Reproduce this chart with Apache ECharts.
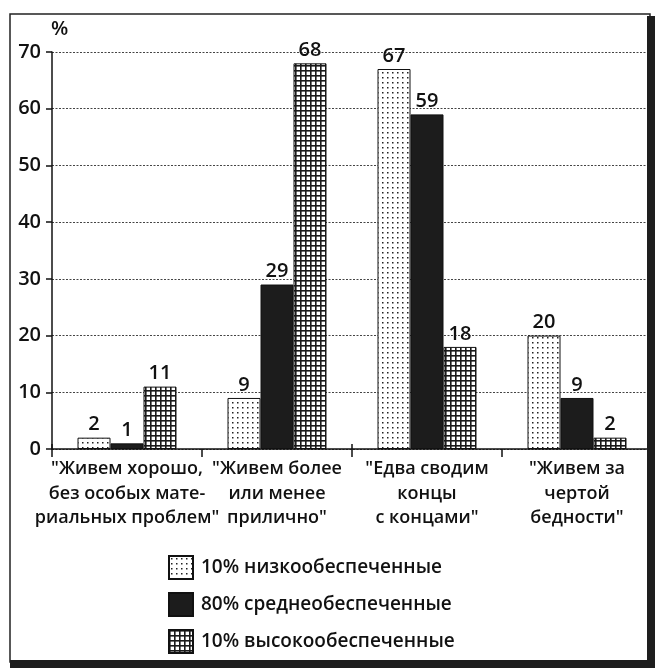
<!DOCTYPE html>
<html>
<head>
<meta charset="utf-8">
<script src="https://cdn.jsdelivr.net/npm/echarts@6/dist/echarts.min.js"></script>
<style>
html,body{margin:0;padding:0;background:#fff;}
#chart{width:664px;height:668px;}
</style>
</head>
<body>
<div id="chart"></div>
<script>
var categories = ['"Живем хорошо,\nбез особых мате-\nриальных проблем"', '"Живем более\nили менее\nприлично"', '"Едва сводим\nконцы\nс концами"', '"Живем за\nчертой\nбедности"'];
var seriesNames = ['10% низкообеспеченные', '80% среднеобеспеченные', '10% высокообеспеченные'];
var lowValues = [2, 9, 67, 20];
var midValues = [1, 29, 59, 9];
var highValues = [11, 68, 18, 2];
var yTicks = [0, 10, 20, 30, 40, 50, 60, 70];

function dotPattern() {
  var c = document.createElement('canvas');
  c.width = 5; c.height = 5;
  var g = c.getContext('2d');
  g.fillStyle = '#ffffff'; g.fillRect(0, 0, 5, 5);
  g.fillStyle = '#222222'; g.fillRect(2, 2, 1.5, 1.5);
  return c;
}
function gridPattern() {
  var c = document.createElement('canvas');
  c.width = 5; c.height = 5;
  var g = c.getContext('2d');
  g.fillStyle = '#ffffff'; g.fillRect(0, 0, 5, 5);
  g.fillStyle = '#1a1a1a';
  g.fillRect(0, 0, 5, 1.6);
  g.fillRect(0, 0, 1.6, 5);
  return c;
}

var FONT = 'Open Sans';
var W = 600;
var chart = echarts.init(document.getElementById('chart'), null, {renderer: 'canvas'});
var lblStyle = {show: true, position: 'top', distance: 3, fontSize: 20, fontWeight: W, color: '#111', fontFamily: FONT};

chart.setOption({
  animation: false,
  backgroundColor: '#ffffff',
  textStyle: {fontFamily: FONT},
  grid: {left: 52, right: 12, top: 52, bottom: 219},
  legend: {
    orient: 'vertical', left: 163, top: 550,
    itemWidth: 24, itemHeight: 23, itemGap: 12,
    icon: 'rect',
    textStyle: {fontSize: 19, fontWeight: W, color: '#111', fontFamily: FONT, padding: [0, 0, 0, 3]},
    data: seriesNames
  },
  xAxis: [{
    type: 'category', data: categories,
    axisLine: {lineStyle: {color: '#111', width: 1.5}},
    axisTick: {show: true, length: 8, lineStyle: {color: '#111', width: 1.5}},
    axisLabel: {interval: 0, margin: 8, fontSize: 18, fontWeight: W, lineHeight: 24.5, color: '#111', fontFamily: FONT},
    splitLine: {show: false}
  }, {
    type: 'category', data: categories, position: 'bottom',
    axisLine: {show: false},
    axisTick: {show: true, inside: true, length: 5, lineStyle: {color: '#111', width: 1.5}},
    axisLabel: {show: false},
    splitLine: {show: false}
  }],
  yAxis: {
    type: 'value', min: yTicks[0], max: yTicks[yTicks.length - 1], interval: 10,
    axisLine: {show: true, lineStyle: {color: '#111', width: 1.5}},
    axisTick: {show: true, length: 6, lineStyle: {color: '#111', width: 1.5}},
    axisLabel: {fontSize: 20, fontWeight: W, color: '#111', margin: 11, fontFamily: FONT},
    splitLine: {show: true, lineStyle: {color: '#444', type: [2, 1.5], width: 1}}
  },
  graphic: [
    {type: 'rect', shape: {x: 10, y: 14, width: 640, height: 648}, style: {fill: 'none', stroke: '#222', lineWidth: 1.5}, z: 100},
    {type: 'rect', shape: {x: 647, y: 16, width: 8, height: 652}, style: {fill: '#1e1e1e'}, z: 100},
    {type: 'rect', shape: {x: 10, y: 660, width: 645, height: 8}, style: {fill: '#1e1e1e'}, z: 100},
    {type: 'text', left: 51, top: 19, style: {text: '%', fontSize: 20, fontWeight: W, fill: '#111', fontFamily: FONT}}
  ],
  series: [{
    name: seriesNames[0], type: 'bar', data: lowValues, barWidth: 33, barGap: '0%',
    itemStyle: {color: {image: dotPattern(), repeat: 'repeat'}, borderColor: '#111', borderWidth: 1},
    label: lblStyle
  }, {
    name: seriesNames[1], type: 'bar', data: midValues, barWidth: 33, barGap: '0%',
    itemStyle: {color: '#1c1c1c', borderColor: '#111', borderWidth: 1},
    label: lblStyle
  }, {
    name: seriesNames[2], type: 'bar', data: highValues, barWidth: 33, barGap: '0%',
    itemStyle: {color: {image: gridPattern(), repeat: 'repeat'}, borderColor: '#111', borderWidth: 1},
    label: lblStyle
  }]
});
</script>
</body>
</html>
